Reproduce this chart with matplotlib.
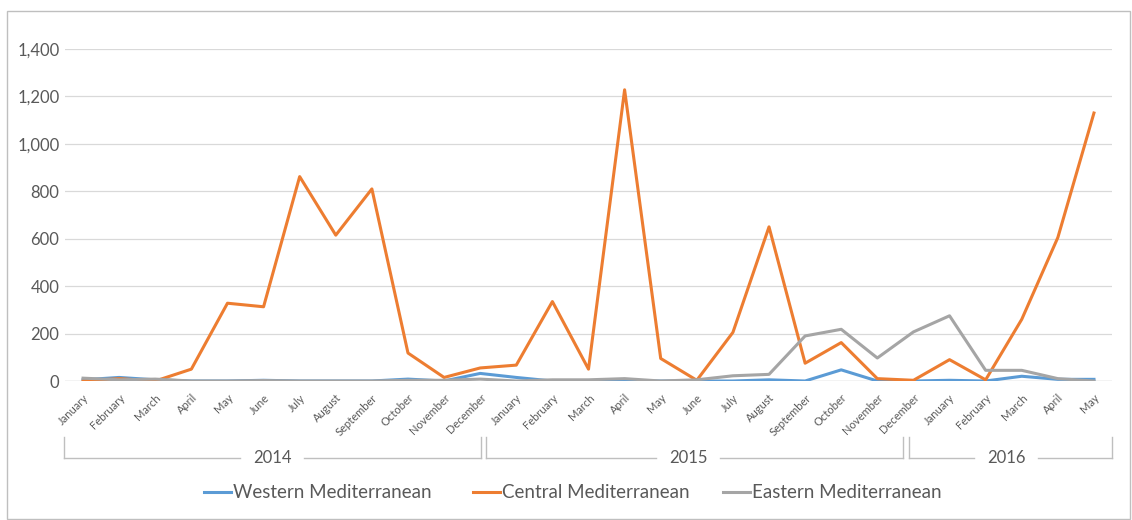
import matplotlib
matplotlib.use("Agg")
import matplotlib.pyplot as plt
from matplotlib.patches import Rectangle
from matplotlib.lines import Line2D
import numpy as np

plt.rcParams['font.family'] = ['Lato', 'DejaVu Sans']

months = ['January', 'February', 'March', 'April', 'May', 'June', 'July', 'August',
          'September', 'October', 'November', 'December',
          'January', 'February', 'March', 'April', 'May', 'June', 'July', 'August',
          'September', 'October', 'November', 'December',
          'January', 'February', 'March', 'April', 'May']
years = ['2014', '2015', '2016']
series_names = ['Western Mediterranean', 'Central Mediterranean', 'Eastern Mediterranean']

western = [5, 15, 5, 0, 0, 3, 0, 0, 0, 8, 0, 32,
           15, 0, 0, 0, 0, 0, 0, 5, 0, 47, 0, 0,
           3, 0, 20, 7, 7]
central = [0, 10, 0, 50, 328, 313, 862, 615, 810, 118, 15, 55,
           67, 335, 50, 1228, 95, 3, 205, 650, 75, 162, 10, 3,
           90, 5, 260, 605, 1130]
eastern = [12, 5, 8, 0, 0, 2, 0, 0, 0, 3, 3, 8,
           0, 5, 5, 10, 0, 5, 22, 28, 190, 218, 97, 207,
           275, 45, 45, 10, 0]

c_west = '#5B9BD5'
c_cent = '#ED7D31'
c_east = '#A5A5A5'
txt = '#595959'
grid = '#D9D9D9'

fig = plt.figure(figsize=(11.32, 5.2), dpi=100)
ax = fig.add_axes([65/1132, 1 - 381/520, (1112-65)/1132, (381-49)/520])

x = np.arange(len(months))
ax.plot(x, western, color=c_west, lw=2.2, solid_joinstyle='round', zorder=3)
ax.plot(x, central, color=c_cent, lw=2.2, solid_joinstyle='round', zorder=4)
ax.plot(x, eastern, color=c_east, lw=2.2, solid_joinstyle='round', zorder=5)

ax.set_xlim(-0.5, len(months) - 0.5)
ax.set_ylim(0, 1400)
ax.set_yticks(range(0, 1401, 200))
ax.set_yticklabels([f'{v:,}' for v in range(0, 1401, 200)], color=txt, fontsize=12)
ax.yaxis.grid(True, color=grid, lw=0.9)
ax.set_axisbelow(True)
for s in ax.spines.values():
    s.set_visible(False)
ax.axhline(0, color=grid, lw=1, zorder=1)
ax.tick_params(axis='y', length=0, pad=4)
ax.set_xticks(x)
ax.set_xticklabels(months, rotation=45, ha='right', va='top', rotation_mode='anchor',
                   fontsize=8, color=txt)
ax.tick_params(axis='x', length=0, pad=8)

# year group brackets (figure pixel layout)
def fx(px):
    return px / 1132
def fy(py):
    return 1 - py / 520

bc = '#BFBFBF'
groups = [(64, 481, 272), (486, 903, 688), (909, 1112, 1006)]
for left, right, mid in groups:
    fig.add_artist(Line2D([fx(left), fx(left)], [fy(437), fy(458)], color=bc, lw=1))
    fig.add_artist(Line2D([fx(right), fx(right)], [fy(437), fy(458)], color=bc, lw=1))
    fig.add_artist(Line2D([fx(left), fx(mid - 32)], [fy(458), fy(458)], color=bc, lw=1))
    fig.add_artist(Line2D([fx(mid + 32), fx(right)], [fy(458), fy(458)], color=bc, lw=1))
for (left, right, mid), yr in zip(groups, years):
    fig.text(fx(mid), fy(458), yr, ha='center', va='center', fontsize=12, color=txt)

# legend, placed like the Excel one
leg_x = [204, 473, 723]
for lx, name, col in zip(leg_x, series_names, [c_west, c_cent, c_east]):
    fig.add_artist(Line2D([fx(lx), fx(lx + 27)], [fy(492), fy(492)], color=col, lw=2.2))
    fig.text(fx(lx + 29), fy(492), name, ha='left', va='center', fontsize=13.5, color=txt)

fig.add_artist(Rectangle((fx(7), fy(519)), fx(1130) - fx(7), fy(11) - fy(519),
                         fill=False, edgecolor='#BFBFBF', lw=1))

fig.savefig('out.png', dpi=100)
